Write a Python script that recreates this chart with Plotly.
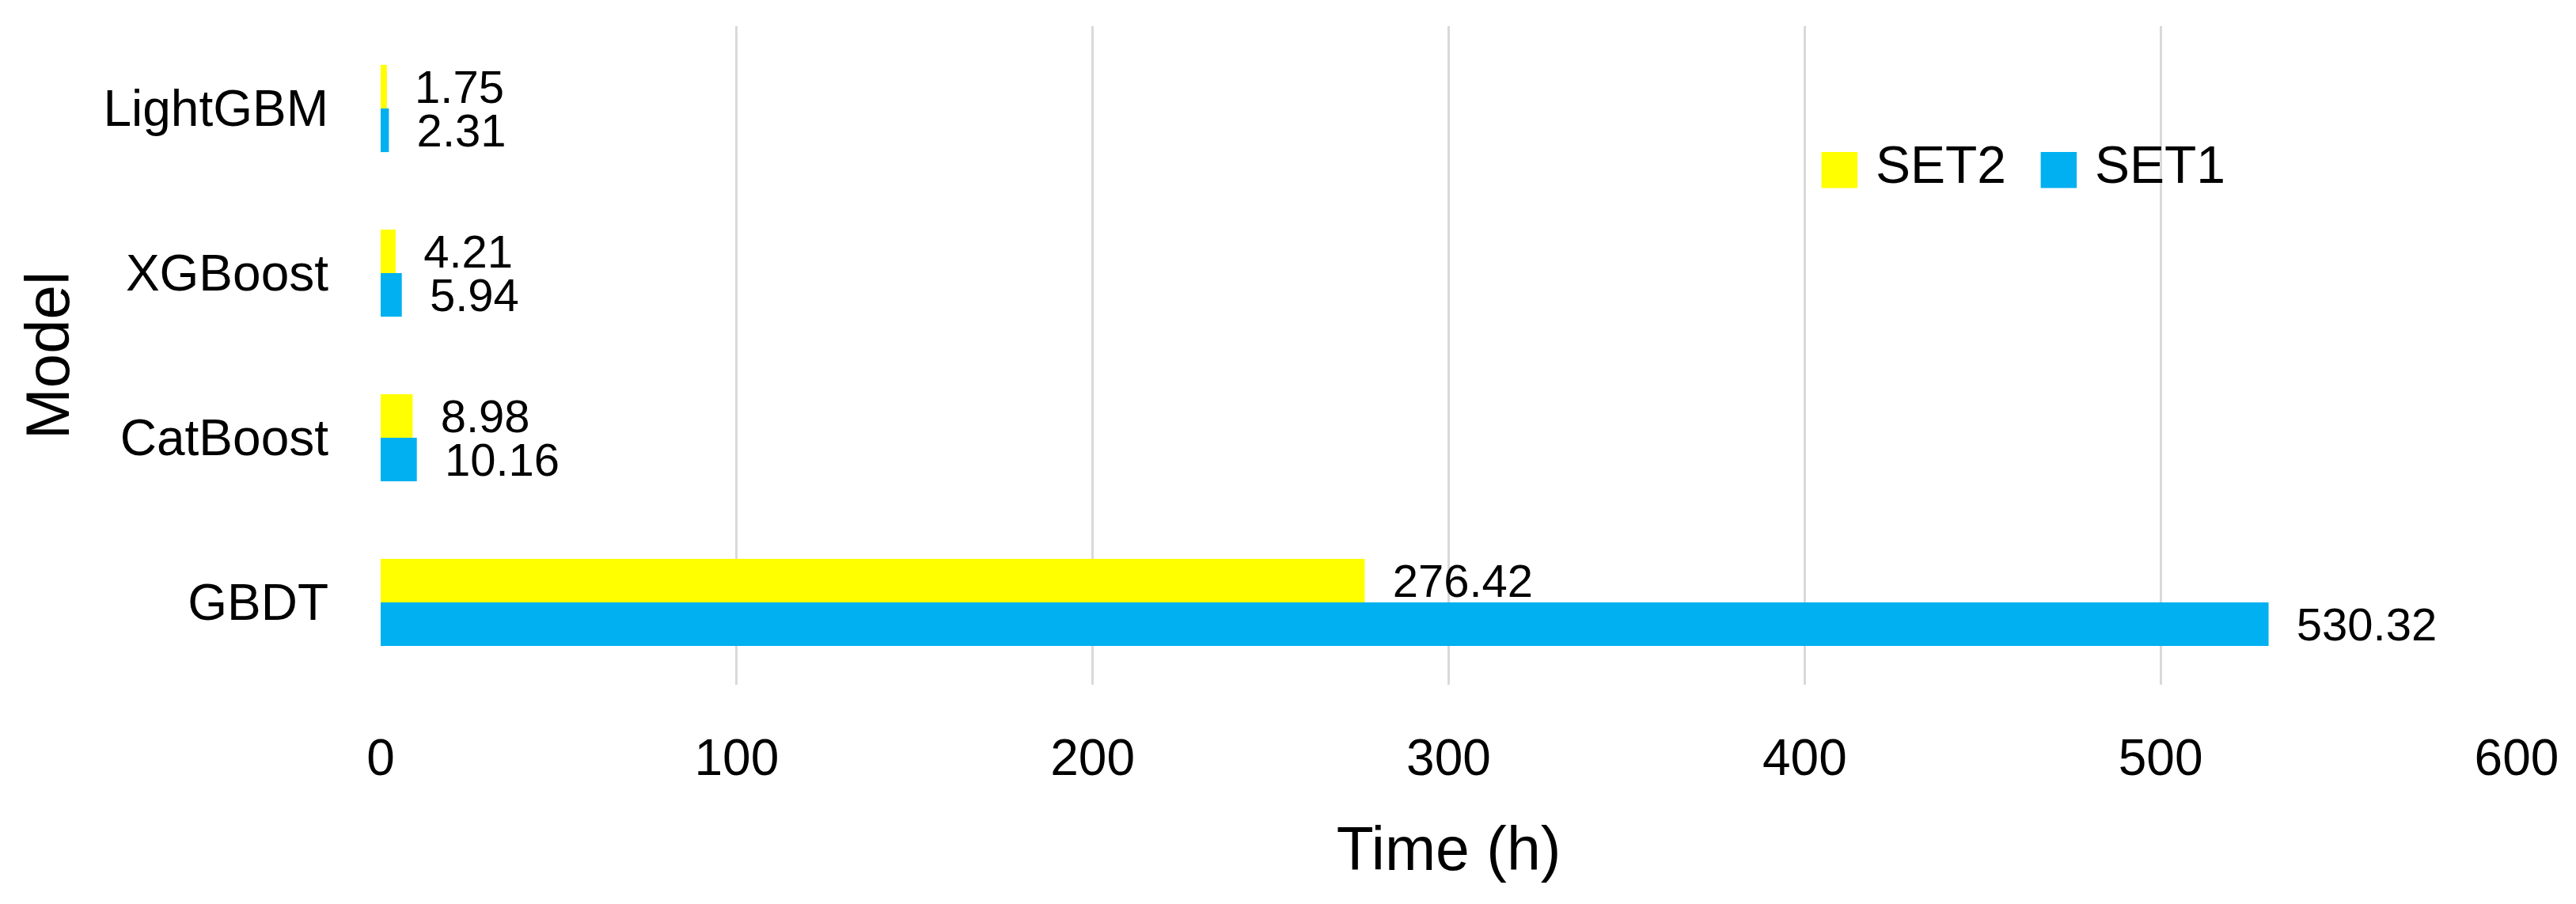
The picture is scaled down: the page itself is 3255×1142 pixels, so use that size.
import plotly.graph_objects as go

# Data (categories listed bottom-to-top as they appear on the y axis)
models = ["GBDT", "CatBoost", "XGBoost", "LightGBM"]
set1_hours = [530.32, 10.16, 5.94, 2.31]
set2_hours = [276.42, 8.98, 4.21, 1.75]
x_ticks = [0, 100, 200, 300, 400, 500, 600]

SET1_COLOR = "#00B0F0"
SET2_COLOR = "#FFFF00"
FONT = "Liberation Sans, Arial, sans-serif"

fig = go.Figure()

# SET1 first so it sits below SET2 inside each group
series = [("SET1", set1_hours, SET1_COLOR), ("SET2", set2_hours, SET2_COLOR)]
for name, values, color in series:
    fig.add_trace(
        go.Bar(
            y=models,
            x=values,
            name=name,
            orientation="h",
            marker=dict(color=color, line=dict(width=0)),
            text=[f"\u00a0\u00a0{v:.2f}" for v in values],
            textposition="outside",
            constraintext="none",
            cliponaxis=False,
            textfont=dict(family=FONT, size=58, color="#000000"),
            showlegend=False,
        )
    )

# Legend drawn with annotations so the colour swatches can be as large as in the original
swatch_x = [0.6832, 0.7858]
label_x = [0.6991, 0.8018]
for (name, _, color), sx, lx in zip(reversed(series), swatch_x, label_x):
    fig.add_annotation(
        xref="paper", yref="paper", x=sx, y=0.7867,
        xanchor="center", yanchor="middle", showarrow=False,
        text="\u25a0",
        font=dict(family=FONT, size=94, color=color),
    )
    fig.add_annotation(
        xref="paper", yref="paper", x=lx, y=0.7891,
        xanchor="left", yanchor="middle", showarrow=False,
        text=name,
        font=dict(family=FONT, size=66, color="#000000"),
    )

# margins are offset by the 8px page margin of the html body
fig.update_layout(
    width=3255,
    height=1142,
    barmode="group",
    bargap=0.47,
    bargroupgap=0,
    plot_bgcolor="white",
    paper_bgcolor="white",
    margin=dict(l=473, r=83, t=25, b=285),
    showlegend=False,
    xaxis=dict(
        range=[0, 600],
        tickvals=x_ticks,
        showgrid=True,
        gridcolor="#D9D9D9",
        gridwidth=3,
        zeroline=False,
        showline=False,
        ticks="",
        ticklabelstandoff=49,
        tickfont=dict(family=FONT, size=64, color="#000000"),
        title=dict(
            text="Time (h)",
            font=dict(family=FONT, size=77, color="#000000"),
            standoff=53,
        ),
    ),
    yaxis=dict(
        showgrid=False,
        zeroline=False,
        showline=False,
        ticks="",
        ticklabelstandoff=65,
        tickfont=dict(family=FONT, size=64, color="#000000"),
        title=dict(
            text="Model",
            font=dict(family=FONT, size=78, color="#000000"),
            standoff=17,
        ),
    ),
)

fig.write_html("out.html")
